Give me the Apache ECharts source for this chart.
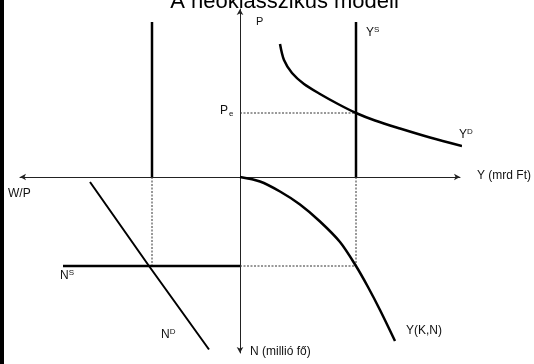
<!DOCTYPE html>
<html>
<head>
<meta charset="utf-8">
<script src="https://cdn.jsdelivr.net/npm/echarts@6/dist/echarts.min.js"></script>
<style>
  html, body { margin: 0; padding: 0; background: #fff; }
  #chart { width: 534px; height: 364px; }
</style>
</head>
<body>
<div id="chart"></div>
<script>
// four-quadrant diagram, origin at (0,0); units are arbitrary
const xRange = [-22, 22]
const yRange = [-17.6, 16.8]

// top right: aggregate supply (vertical) and aggregate demand
const ySupply = [[11.6, 0], [11.6, 15.5]]
const yDemand = [
  [4.0, 13.3], [4.4, 11.7], [5.2, 10.4], [6.4, 9.3], [8.0, 8.3],
  [9.8, 7.3], [11.6, 6.4], [13.5, 5.65], [16.0, 4.85], [19.0, 3.95], [22.2, 3.1]
]
const priceLine = [[0, 6.4], [11.6, 6.4]]

// top left: vertical line above the real wage axis
const wageVertical = [[-8.8, 0], [-8.8, 15.5]]

// bottom left: labour market
const laborSupply = [[-17.7, -8.9], [0, -8.9]]
const laborDemand = [[-15.0, -0.5], [-9.1, -8.9], [-3.1, -17.25]]

// bottom right: production function Y(K,N)
const production = [
  [0, 0], [2.0, -0.45], [4.0, -1.45], [6.0, -2.75], [8.0, -4.45],
  [10.0, -6.5], [11.6, -8.9], [12.8, -11.0], [14.0, -13.3], [15.5, -16.4]
]

// dotted guide lines
const guideLeft = [[-8.8, 0], [-8.8, -8.9]]
const guideBottom = [[0, -8.9], [11.6, -8.9]]
const guideRight = [[11.6, 0], [11.6, -8.9]]

const FONT = 'Liberation Sans'

const chart = echarts.init(document.getElementById('chart'))

const solid = (data, width, smooth) => ({
  type: 'line',
  data,
  symbol: 'none',
  smooth: smooth || false,
  clip: false,
  silent: true,
  lineStyle: { color: '#000', width }
})

const dotted = data => ({
  type: 'line',
  data,
  symbol: 'none',
  clip: false,
  silent: true,
  lineStyle: { color: '#333', width: 1, type: [2, 1.5] }
})

const label = (left, top, rich, text, size) => ({
  type: 'text',
  left,
  top,
  style: {
    text,
    fill: '#111',
    font: (size || 11) + 'px "' + FONT + '"',
    rich
  }
})

const supRich = {
  b: { fontSize: 12, fontFamily: FONT, color: '#111', lineHeight: 14 },
  s: { fontSize: 8, fontFamily: FONT, color: '#111', lineHeight: 14, padding: [0, 0, 5, 0] },
  d: { fontSize: 8, fontFamily: FONT, color: '#111', lineHeight: 14, padding: [6, 0, 0, 1] }
}

chart.setOption({
  animation: false,
  grid: { left: 20, right: 74, top: 9, bottom: 11 },
  xAxis: {
    type: 'value',
    min: xRange[0],
    max: xRange[1],
    axisLine: {
      onZero: true,
      symbol: ['arrow', 'arrow'],
      symbolSize: [5, 6],
      lineStyle: { color: '#222', width: 1 }
    },
    axisTick: { show: false },
    axisLabel: { show: false },
    splitLine: { show: false }
  },
  yAxis: {
    type: 'value',
    min: yRange[0],
    max: yRange[1],
    axisLine: {
      onZero: true,
      symbol: ['arrow', 'arrow'],
      symbolSize: [5, 6],
      lineStyle: { color: '#222', width: 1 }
    },
    axisTick: { show: false },
    axisLabel: { show: false },
    splitLine: { show: false }
  },
  series: [
    dotted(priceLine),
    dotted(guideLeft),
    dotted(guideBottom),
    dotted(guideRight),
    solid(wageVertical, 2.5),
    solid(ySupply, 2.5),
    solid(yDemand, 2.5, 0.3),
    solid(laborSupply, 2.5),
    solid(laborDemand, 2),
    solid(production, 2.5, 0.3)
  ],
  graphic: [
    { type: 'rect', shape: { x: 0, y: 0, width: 4, height: 364 }, style: { fill: '#000' } },
    {
      type: 'text', x: 284.5, y: -9.5,
      style: {
        text: 'A neoklasszikus modell', fill: '#000', font: '22px "' + FONT + '"',
        textAlign: 'center', textVerticalAlign: 'top'
      }
    },
    label(256, 16, null, 'P'),
    label(366, 26, supRich, '{b|Y}{s|S}'),
    label(220, 104, supRich, '{b|P}{d|e}'),
    label(459, 128, supRich, '{b|Y}{s|D}'),
    label(477, 170, null, 'Y (mrd Ft)', 12),
    label(8, 188, null, 'W/P', 12),
    label(60, 269, supRich, '{b|N}{s|S}'),
    label(161, 328, supRich, '{b|N}{s|D}'),
    label(250, 346, null, 'N (millió fő)', 12),
    label(406, 325, null, 'Y(K,N)', 12)
  ]
})
</script>
</body>
</html>
